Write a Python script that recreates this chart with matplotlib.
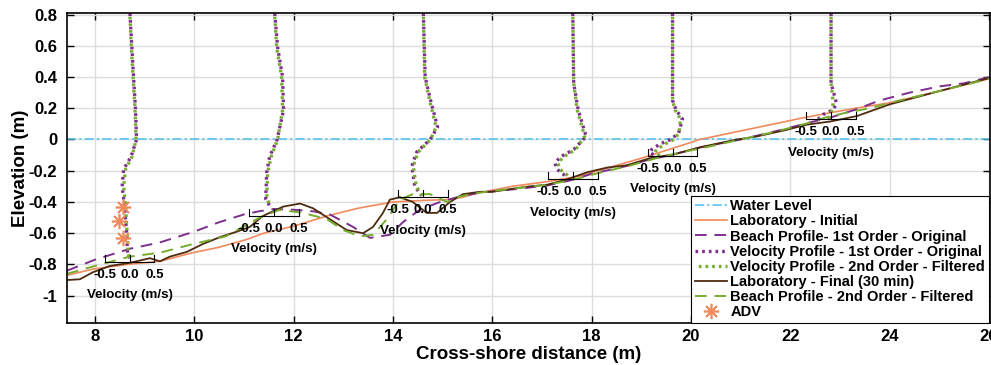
import numpy as np
import matplotlib
matplotlib.use("Agg")
import matplotlib.pyplot as plt

# ---------------- data ----------------
water_level = 0.0

lab_init_x = [7.44, 7.96, 8.64, 9.31, 9.97, 10.5, 11.06, 11.4, 12.0, 12.67, 13.3, 14.0, 14.6, 15.09, 15.4,
              15.75, 16.4, 17.1, 17.76, 18.4, 19.0, 19.5, 20.18, 20.85, 21.53, 22.2, 22.86, 23.5, 24.0, 25.0, 26.02]
lab_init_y = [-0.87, -0.83, -0.80, -0.78, -0.725, -0.69, -0.64, -0.60, -0.555, -0.49, -0.44, -0.40, -0.39, -0.385, -0.37,
              -0.34, -0.30, -0.27, -0.235, -0.175, -0.12, -0.07, 0.0, 0.045, 0.09, 0.135, 0.175, 0.21, 0.235, 0.31, 0.39]

lab_final_x = [7.44, 7.7, 7.96, 8.3, 8.7, 9.11, 9.31, 9.51, 9.85, 10.17, 10.52, 10.86, 11.12, 11.38, 11.79, 12.13,
               12.39, 12.73, 13.07, 13.4, 13.6, 13.8, 13.94, 14.14, 14.4, 14.68, 14.89, 15.15, 15.41, 15.75, 16.0,
               16.42, 16.76, 17.1, 17.5, 17.91, 18.31, 18.71, 19.17, 19.64, 20.18, 20.85, 21.33, 21.9, 22.33, 22.8,
               23.34, 24.0, 25.0, 26.02]
lab_final_y = [-0.90, -0.895, -0.85, -0.81, -0.79, -0.76, -0.78, -0.75, -0.72, -0.67, -0.625, -0.59, -0.56, -0.49,
               -0.43, -0.41, -0.44, -0.51, -0.58, -0.60, -0.56, -0.47, -0.385, -0.37, -0.40, -0.47, -0.47, -0.40,
               -0.35, -0.335, -0.335, -0.315, -0.30, -0.29, -0.256, -0.21, -0.18, -0.165, -0.12, -0.096, -0.05,
               -0.005, 0.02, 0.06, 0.095, 0.115, 0.15, 0.225, 0.31, 0.395]

bp1_x = [7.44, 8.0, 8.7, 9.3, 10.0, 10.5, 11.0, 11.3, 11.6, 12.0, 12.4, 12.73, 13.2, 13.54, 13.94, 14.2, 14.54,
         14.95, 15.35, 15.75, 16.4, 17.1, 17.6, 18.0, 18.7, 19.2, 19.6, 20.2, 21.0, 21.8, 22.4, 22.8, 23.3, 23.8,
         24.4, 25.0, 25.5, 26.02]
bp1_y = [-0.84, -0.77, -0.70, -0.66, -0.59, -0.53, -0.48, -0.46, -0.445, -0.45, -0.46, -0.48, -0.56, -0.63, -0.61,
         -0.53, -0.45, -0.40, -0.365, -0.34, -0.32, -0.295, -0.26, -0.22, -0.17, -0.125, -0.10, -0.05, 0.0, 0.06,
         0.11, 0.14, 0.19, 0.25, 0.30, 0.34, 0.36, 0.40]

bp2_x = [7.44, 8.0, 8.7, 9.31, 9.97, 10.64, 11.32, 11.72, 12.19, 12.67, 13.0, 13.34, 13.6, 13.88, 14.14, 14.4,
         14.75, 15.09, 15.35, 15.75, 16.4, 17.1, 17.6, 18.2, 18.8, 19.3, 19.7, 20.3, 21.0, 21.7, 22.3, 22.7, 23.1,
         23.6, 24.2, 25.0, 26.02]
bp2_y = [-0.86, -0.81, -0.75, -0.725, -0.67, -0.62, -0.50, -0.45, -0.47, -0.51, -0.58, -0.62, -0.61, -0.51,
         -0.385, -0.35, -0.35, -0.40, -0.365, -0.34, -0.315, -0.29, -0.26, -0.21, -0.165, -0.12, -0.09, -0.05,
         0.0, 0.05, 0.10, 0.14, 0.17, 0.20, 0.25, 0.31, 0.39]

# velocity profile stations
station_x = [8.7, 11.61, 14.61, 17.62, 19.63, 22.82]
scale_bar_y = [-0.785, -0.49, -0.37, -0.255, -0.105, 0.13]

vp_z = [
    [0.85, 0.62, 0.40, 0.19, 0.0, -0.11, -0.19, -0.30, -0.43, -0.60, -0.73, -0.76],
    [0.85, 0.59, 0.40, 0.19, 0.0, -0.11, -0.21, -0.38, -0.43],
    [0.85, 0.40, 0.25, 0.08, 0.0, -0.08, -0.17, -0.30, -0.36],
    [0.85, 0.36, 0.19, 0.02, -0.064, -0.11, -0.15, -0.19, -0.225, -0.245],
    [0.85, 0.25, 0.19, 0.13, 0.04, 0.0, -0.03, -0.064, -0.085, -0.11],
    [0.85, 0.36, 0.28, 0.23, 0.19, 0.16, 0.13],
]
vp1_u = [
    [0.0, 0.04, 0.08, 0.12, 0.14, 0.03, -0.12, -0.15, -0.10, -0.06, -0.04, 0.0],
    [0.0, 0.07, 0.17, 0.19, 0.06, -0.09, -0.15, -0.17, -0.08],
    [0.0, 0.04, 0.15, 0.29, 0.14, -0.13, -0.23, -0.17, -0.03],
    [0.0, 0.02, 0.11, 0.27, 0.02, -0.24, -0.36, -0.32, -0.18, -0.10],
    [0.0, 0.0, 0.07, 0.20, 0.12, -0.04, -0.26, -0.42, -0.46, -0.30],
    [0.0, 0.0, 0.07, 0.11, 0.04, -0.16, -0.26],
]
vp2_u = [
    [0.0, 0.03, 0.07, 0.11, 0.13, 0.05, -0.08, -0.12, -0.08, -0.05, -0.03, 0.0],
    [0.0, 0.05, 0.15, 0.17, 0.07, -0.06, -0.13, -0.15, -0.06],
    [0.0, 0.03, 0.13, 0.26, 0.15, -0.10, -0.20, -0.14, -0.02],
    [0.0, 0.02, 0.09, 0.24, 0.06, -0.18, -0.30, -0.26, -0.12, -0.06],
    [0.0, 0.0, 0.05, 0.16, 0.13, 0.02, -0.16, -0.32, -0.36, -0.22],
    [0.0, 0.0, 0.03, 0.04, 0.02, -0.02, -0.06],
]

adv_x = [8.56, 8.48, 8.56]
adv_y = [-0.435, -0.52, -0.63]

scale_ticks = [-0.5, 0.0, 0.5]
scale_labels = ["-0.5", "0.0", "0.5"]

xticks = [8, 10, 12, 14, 16, 18, 20, 22, 24, 26]
yticks = [-1, -0.8, -0.6, -0.4, -0.2, 0, 0.2, 0.4, 0.6, 0.8]
ytick_labels = ["-1", "-0.8", "-0.6", "-0.4", "-0.2", "0", "0.2", "0.4", "0.6", "0.8"]

# ---------------- style ----------------
C_WATER = "#4DBEEE"
C_INIT = "#F08A5D"
C_PURPLE = "#7E2F8E"
C_GREEN = "#77AC30"
C_BROWN = "#4E2C0E"

FONT = ["Liberation Sans", "DejaVu Sans"]
plt.rcParams["font.family"] = FONT
plt.rcParams["font.weight"] = "bold"

fig = plt.figure(figsize=(9.91, 3.65), dpi=100)
ax = fig.add_axes([67 / 991, (365 - 323) / 365, (990 - 67) / 991, (323 - 13) / 365])
ax.set_xlim(7.44, 26.02)
ax.set_ylim(-1.175, 0.81)

ax.grid(True, color="#DDDDDD", lw=1.0)
ax.set_axisbelow(True)

ax.axhline(water_level, color=C_WATER, lw=1.1, ls=(0, (6, 2, 1.5, 2)), label="Water Level")
ax.plot(lab_init_x, lab_init_y, color=C_INIT, lw=1.2, label="Laboratory - Initial")
ax.plot(bp1_x, bp1_y, color=C_PURPLE, lw=1.4, ls=(0, (6, 4)), label="Beach Profile- 1st Order - Original")

for i, x0 in enumerate(station_x):
    u1 = np.array(vp1_u[i]) + x0
    u2 = np.array(vp2_u[i]) + x0
    ax.plot(u1, vp_z[i], color=C_PURPLE, lw=2.4, ls=(0, (0.8, 1.2)),
            label="Velocity Profile - 1st Order - Original" if i == 0 else None)
    ax.plot(u2, vp_z[i], color=C_GREEN, lw=2.4, ls=(1.0, (0.8, 1.2)),
            label="Velocity Profile - 2nd Order - Filtered" if i == 0 else None)

ax.plot(lab_final_x, lab_final_y, color=C_BROWN, lw=1.3, label="Laboratory - Final (30 min)")
ax.plot(bp2_x, bp2_y, color=C_GREEN, lw=1.4, ls=(0, (6, 4)), label="Beach Profile - 2nd Order - Filtered")
ax.plot(adv_x, adv_y, ls="none", marker=(8, 2, 0), ms=11, mew=1.2, color=C_INIT, label="ADV")

# scale bars
for x0, yb in zip(station_x, scale_bar_y):
    ax.plot([x0 + scale_ticks[0], x0 + scale_ticks[-1]], [yb, yb], color="black", lw=0.8)
    for t, lab in zip(scale_ticks, scale_labels):
        ax.plot([x0 + t, x0 + t], [yb, yb + 0.045], color="black", lw=0.8)
        ax.text(x0 + t, yb - 0.045, lab, ha="center", va="top", fontsize=9.5, fontweight="bold")
    ax.text(x0, yb - 0.175, "Velocity (m/s)", ha="center", va="top", fontsize=9.6, fontweight="bold")

ax.set_xticks(xticks)
ax.set_yticks(yticks)
ax.set_yticklabels(ytick_labels)
ax.tick_params(direction="in", top=True, right=True, length=5, width=1, labelsize=12)
ax.tick_params(axis="x", pad=4)
ax.tick_params(axis="y", pad=7)
for lab in ax.get_xticklabels() + ax.get_yticklabels():
    lab.set_fontweight("bold")
for s in ax.spines.values():
    s.set_linewidth(1.2)

ax.set_xlabel("Cross-shore distance (m)", fontsize=13.5, fontweight="bold", labelpad=2)
ax.set_ylabel("Elevation (m)", fontsize=13.5, fontweight="bold", labelpad=0,
              family=["Liberation Sans Narrow", "Liberation Sans", "DejaVu Sans"])

leg = ax.legend(loc="lower left", bbox_to_anchor=((20 - 7.44) / (26.02 - 7.44), 0.0),
                fontsize=10.5, frameon=True, fancybox=False, edgecolor="black", framealpha=1,
                handlelength=2.2, handletextpad=0.25, labelspacing=0.08, borderpad=0.25, borderaxespad=0)
leg.get_frame().set_linewidth(0.8)
for t in leg.get_texts():
    t.set_fontweight("bold")

fig.savefig("out.png", dpi=100)
